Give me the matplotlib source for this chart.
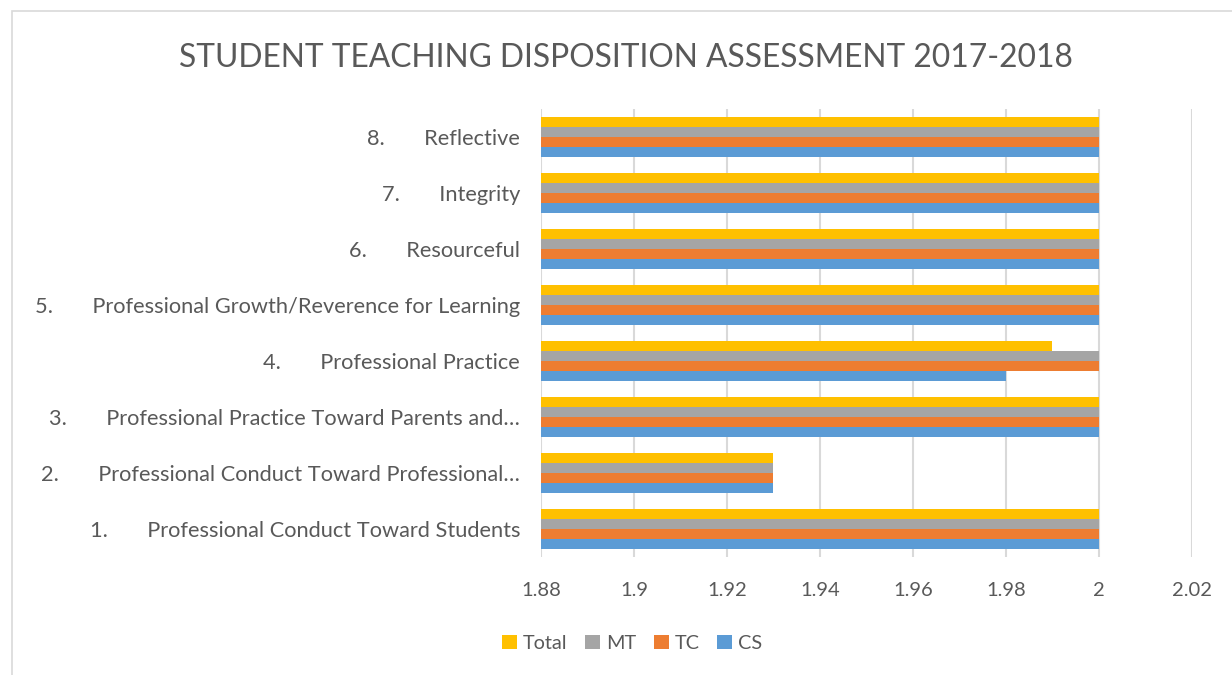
import matplotlib.pyplot as plt
import numpy as np

plt.rcParams['font.family'] = ['Lato', 'DejaVu Sans']

# data (categories listed bottom to top)
categories = [
    "1.       Professional Conduct Toward Students",
    "2.       Professional Conduct Toward Professional\u2026",
    "3.       Professional Practice Toward Parents and\u2026",
    "4.       Professional Practice",
    "5.       Professional Growth/Reverence for Learning",
    "6.       Resourceful",
    "7.       Integrity",
    "8.       Reflective",
]
cs = [2, 1.93, 2, 1.98, 2, 2, 2, 2]
tc = [2, 1.93, 2, 2, 2, 2, 2, 2]
mt = [2, 1.93, 2, 2, 2, 2, 2, 2]
total = [2, 1.93, 2, 1.99, 2, 2, 2, 2]
xticks = [1.88, 1.9, 1.92, 1.94, 1.96, 1.98, 2, 2.02]

series = [("CS", cs, "#5b9bd5"), ("TC", tc, "#ed7d31"),
          ("MT", mt, "#a5a5a5"), ("Total", total, "#ffc000")]

txt = "#595959"
fig = plt.figure(figsize=(12.32, 6.75), dpi=100)
ax = fig.add_axes([0.439, 0.175, 0.5285, 0.6635])

y = np.arange(len(categories))
h = 0.18
for i, (name, vals, col) in enumerate(series):
    ax.barh(y + (i - 1.5) * h, vals, height=h, color=col, label=name, zorder=3)

ax.set_xlim(1.88, 2.02)
ax.set_ylim(-0.5, len(categories) - 0.5)
ax.set_xticks(xticks)
ax.set_xticklabels([f"{v:g}" for v in xticks])
ax.set_yticks(y)
ax.set_yticklabels(categories)
ax.tick_params(axis='both', length=0, colors=txt)
ax.tick_params(axis='x', pad=18, labelsize=14.5)
ax.tick_params(axis='y', pad=15, labelsize=15.7)
ax.grid(axis='x', color='#d9d9d9', linewidth=1.5, zorder=0)
for s in ax.spines.values():
    s.set_visible(False)

fig.text(0.508, 0.914, "STUDENT TEACHING DISPOSITION ASSESSMENT 2017-2018",
         ha='center', va='center', fontsize=22.9, color=txt)

handles, labels = ax.get_legend_handles_labels()
fig.legend(handles[::-1], labels[::-1], loc='center', bbox_to_anchor=(0.513, 0.047),
           ncol=4, frameon=False, fontsize=14.3, labelcolor=txt,
           handlelength=0.75, handleheight=0.75, handletextpad=0.3, columnspacing=0.9)

# light chart frame
fig.add_artist(plt.Rectangle((0.0098, -0.01), 1.0, 0.994, transform=fig.transFigure,
                             fill=False, edgecolor='#d9d9d9', linewidth=1.2))

fig.savefig("out.png", dpi=100)
